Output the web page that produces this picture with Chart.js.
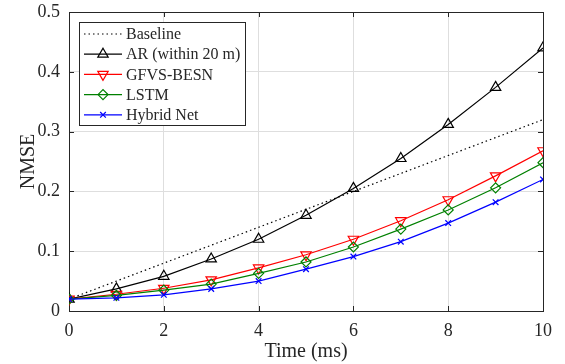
<!DOCTYPE html>
<html>
<head>
<meta charset="utf-8">
<script src="https://cdn.jsdelivr.net/npm/chart.js@4/dist/chart.umd.min.js"></script>
<style>
  body { margin: 0; background: #fff; }
</style>
</head>
<body>
<canvas id="nmseChart" width="565" height="364"></canvas>
<script>
const timeMs = [0, 1, 2, 3, 4, 5, 6, 7, 8, 9, 10];
const baseline = [0.02, 0.05, 0.08, 0.11, 0.14, 0.17, 0.20, 0.23, 0.26, 0.29, 0.32];
const arWithin20m = [0.02, 0.037, 0.058, 0.087, 0.12, 0.16, 0.205, 0.255, 0.312, 0.374, 0.44];
const gfvsBesn = [0.02, 0.028, 0.038, 0.052, 0.072, 0.094, 0.12, 0.151, 0.186, 0.226, 0.268];
const lstm = [0.02, 0.026, 0.035, 0.045, 0.063, 0.082, 0.107, 0.137, 0.169, 0.206, 0.248];
const hybridNet = [0.02, 0.022, 0.027, 0.037, 0.05, 0.07, 0.091, 0.116, 0.147, 0.182, 0.22];
const xTicks = [0, 2, 4, 6, 8, 10];
const yTicks = [0, 0.1, 0.2, 0.3, 0.4, 0.5];

const serif = "'Liberation Serif', 'Times New Roman', serif";
const axisColor = '#262626';

function pts(vals) {
  return vals.map((v, i) => ({ x: timeMs[i], y: v }));
}

// legend entries, in the order shown in the box
const legendOrder = ['Baseline', 'AR (within 20 m)', 'GFVS-BESN', 'LSTM', 'Hybrid Net'];

const datasets = [
  {
    label: 'Baseline', data: pts(baseline), borderColor: '#000', borderWidth: 1.2,
    borderDash: [1.5, 3], pointRadius: 0, order: 4
  },
  {
    label: 'AR (within 20 m)', data: pts(arWithin20m), borderColor: '#000', borderWidth: 1.2,
    pointStyle: 'triangle', pointRadius: 6, pointBorderWidth: 1.2, order: 3
  },
  {
    label: 'GFVS-BESN', data: pts(gfvsBesn), borderColor: '#ff0000', borderWidth: 1.2,
    pointStyle: 'triangle', pointRotation: 180, pointRadius: 6, pointBorderWidth: 1.2, order: 2
  },
  {
    label: 'LSTM', data: pts(lstm), borderColor: '#008000', borderWidth: 1.2,
    pointStyle: 'rectRot', pointRadius: 5, pointBorderWidth: 1.2, order: 1
  },
  {
    label: 'Hybrid Net', data: pts(hybridNet), borderColor: '#0000ff', borderWidth: 1.2,
    pointStyle: 'crossRot', pointRadius: 4, pointBorderWidth: 1.2, order: 0
  }
];
datasets.forEach(d => {
  d.backgroundColor = 'rgba(0,0,0,0)';
  d.pointBackgroundColor = 'rgba(0,0,0,0)';
  d.pointBorderColor = d.borderColor;
  d.tension = 0;
});

// box around the axes with inward ticks, like matlab
const framePlugin = {
  id: 'frame',
  beforeDatasetsDraw(chart) {
    const { ctx, chartArea: a, scales } = chart;
    ctx.save();
    ctx.strokeStyle = axisColor;
    ctx.lineWidth = 1;
    ctx.strokeRect(a.left + 0.5, a.top + 0.5, a.right - a.left, a.bottom - a.top);
    const t = 5;
    ctx.beginPath();
    xTicks.forEach(v => {
      const x = Math.round(scales.x.getPixelForValue(v)) + 0.5;
      ctx.moveTo(x, a.bottom); ctx.lineTo(x, a.bottom - t);
      ctx.moveTo(x, a.top); ctx.lineTo(x, a.top + t);
    });
    yTicks.forEach(v => {
      const y = Math.round(scales.y.getPixelForValue(v)) + 0.5;
      ctx.moveTo(a.left, y); ctx.lineTo(a.left + t, y);
      ctx.moveTo(a.right, y); ctx.lineTo(a.right - t, y);
    });
    ctx.stroke();
    ctx.restore();
  }
};

const legendPlugin = {
  id: 'boxLegend',
  afterDatasetsDraw(chart) {
    const { ctx } = chart;
    const box = { x: 79.5, y: 22.5, w: 166, h: 103 };
    ctx.save();
    ctx.fillStyle = '#fff';
    ctx.fillRect(box.x, box.y, box.w, box.h);
    ctx.strokeStyle = axisColor;
    ctx.lineWidth = 1;
    ctx.strokeRect(box.x, box.y, box.w, box.h);
    ctx.font = '16px ' + serif;
    ctx.textBaseline = 'middle';
    legendOrder.forEach((name, i) => {
      const ds = chart.data.datasets.find(d => d.label === name);
      const y = 34 + i * 20.2;
      ctx.strokeStyle = ds.borderColor;
      ctx.lineWidth = ds.borderWidth;
      ctx.setLineDash(ds.borderDash || []);
      ctx.beginPath();
      ctx.moveTo(84, y); ctx.lineTo(122, y);
      ctx.stroke();
      ctx.setLineDash([]);
      if (ds.pointRadius > 0) {
        ctx.fillStyle = 'rgba(0,0,0,0)';
        ctx.lineWidth = ds.pointBorderWidth;
        Chart.helpers.drawPoint(ctx, {
          pointStyle: ds.pointStyle, rotation: ds.pointRotation || 0,
          radius: ds.pointRadius, borderWidth: ds.pointBorderWidth
        }, 103, y);
      }
      ctx.fillStyle = axisColor;
      ctx.fillText(name, 126, y + 1);
    });
    ctx.restore();
  }
};

new Chart(document.getElementById('nmseChart'), {
  type: 'line',
  data: { datasets: datasets },
  options: {
    responsive: false,
    animation: false,
    layout: { padding: { top: 12, right: 22, left: 0, bottom: 0 } },
    plugins: { legend: { display: false }, tooltip: { enabled: false } },
    scales: {
      x: {
        type: 'linear', min: 0, max: 10,
        afterBuildTicks: s => { s.ticks = xTicks.map(v => ({ value: v })); },
        afterFit: s => { s.height = 53; s.paddingLeft = 0; s.paddingRight = 0; },
        grid: { color: '#dedede', drawTicks: false },
        border: { display: false },
        ticks: { color: axisColor, font: { family: serif, size: 18 }, padding: 9, maxRotation: 0 },
        title: { display: true, text: 'Time (ms)', color: axisColor, font: { family: serif, size: 20 }, padding: { top: 0, bottom: 0 } }
      },
      y: {
        type: 'linear', min: 0, max: 0.5,
        afterBuildTicks: s => { s.ticks = yTicks.map(v => ({ value: v })); },
        afterFit: s => { s.width = 69; s.paddingTop = 0; s.paddingBottom = 0; },
        grid: { color: '#dedede', drawTicks: false },
        border: { display: false },
        ticks: { color: axisColor, font: { family: serif, size: 18 }, padding: 9, callback: v => String(v) },
        title: { display: true, text: 'NMSE', color: axisColor, font: { family: serif, size: 20 }, padding: { top: 17, bottom: 17 } }
      }
    }
  },
  plugins: [framePlugin, legendPlugin]
});
</script>
</body>
</html>
